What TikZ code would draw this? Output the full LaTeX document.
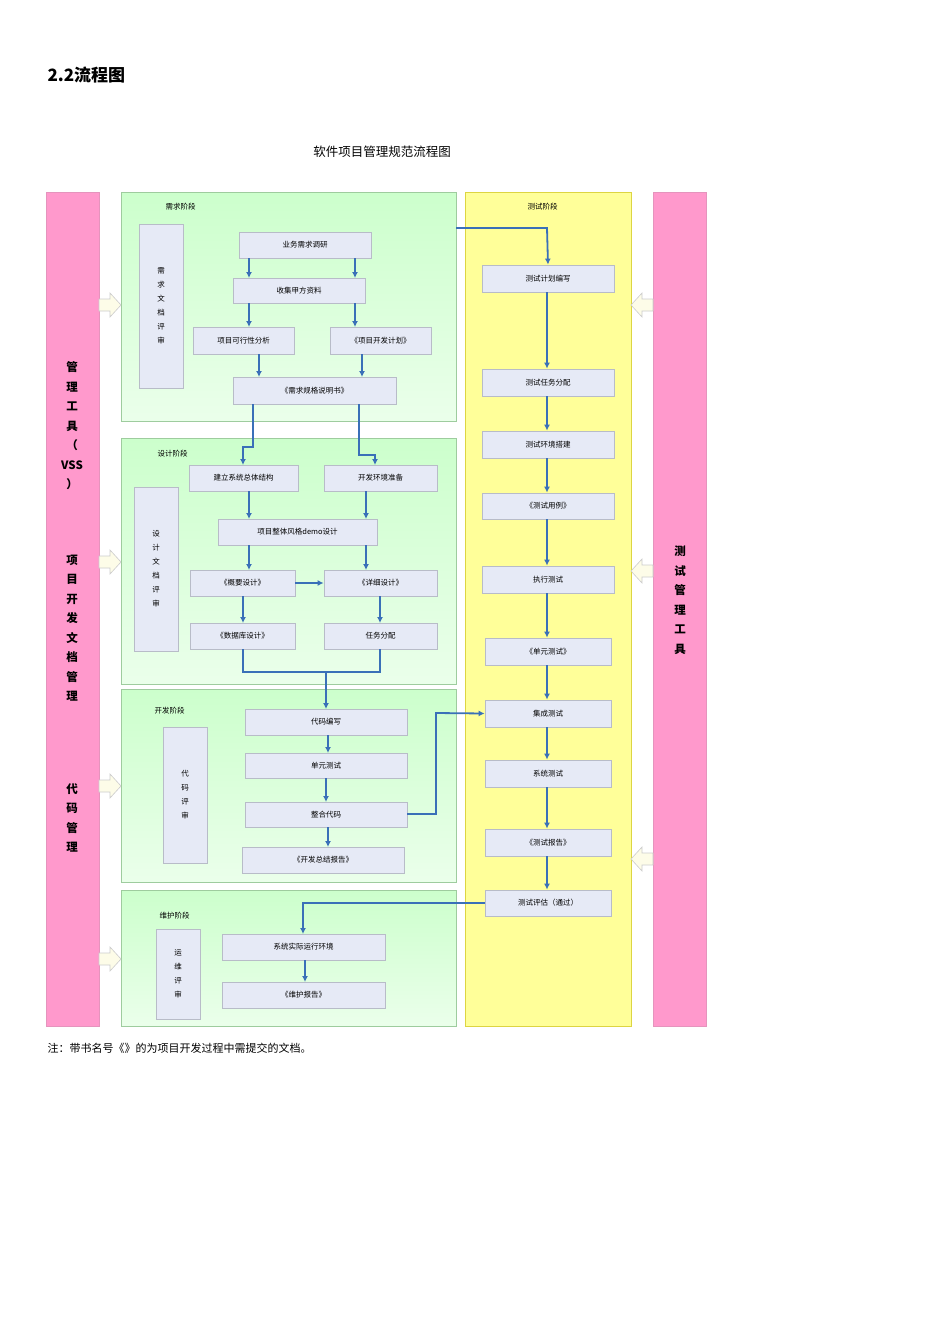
\documentclass[tikz,border=0pt]{standalone}
\usepackage{fontspec}
\setmainfont{Noto Sans CJK SC}
\usetikzlibrary{arrows.meta}
\definecolor{pinkbar}{HTML}{FF99CC}
\definecolor{yel}{HTML}{FFFF99}
\definecolor{boxf}{HTML}{E6EAF6}
\definecolor{boxd}{HTML}{B8BCC8}
\definecolor{arr}{HTML}{3A70B8}
\tikzset{
 sbox/.style={draw=boxd,fill=boxf,line width=0.8pt,font=\fontsize{7.5}{14}\selectfont,inner sep=0pt,align=center},
 panel/.style={draw=white!70!green!60!gray,line width=0.8pt,top color=green!20!white,bottom color=green!8!white},
 flow/.style={draw=arr,line width=1.8pt,-{Latex[length=6pt,width=6pt]}},
 flown/.style={draw=arr,line width=1.8pt},
 blk/.style={fill=gray!15!yellow!10!white,draw=gray!40,line width=0.6pt},
 lab/.style={font=\fontsize{7.5}{9}\selectfont,anchor=west},
}
\newcommand{\bx}[6]{\node[sbox,minimum width=#4-#2,minimum height=#5-#3] (#1) at ({(#2+#4)/2},{(#3+#5)/2}) {#6};}
\begin{document}
\begin{tikzpicture}[x=1pt,y=-1pt]
\useasboundingbox[fill=white] (0,0) rectangle (950,1344);
\node[anchor=west,font=\bfseries\fontsize{17}{20}\selectfont] (h) at (44,75) {2.2流程图};
\node[font=\fontsize{12.5}{15}\selectfont] (t) at (382,152) {软件项目管理规范流程图};
% bars
\node[fill=pinkbar,draw=pinkbar!80!gray,minimum width=53,minimum height=834,inner sep=0] (lb) at (72.5,609) {};
\node[fill=pinkbar,draw=pinkbar!80!gray,minimum width=53,minimum height=834,inner sep=0] (rb) at (679.5,609) {};
\node[fill=yel,draw=yellow!70!gray,minimum width=166,minimum height=834,inner sep=0] (yb) at (548,609) {};
\node[font=\bfseries\fontsize{11.5}{19.5}\selectfont,align=center] (l1) at (72,426) {管\\理\\工\\具\\（\\VSS\\）};
\node[font=\bfseries\fontsize{11.5}{19.5}\selectfont,align=center] (l2) at (72,628) {项\\目\\开\\发\\文\\档\\管\\理};
\node[font=\bfseries\fontsize{11.5}{19.5}\selectfont,align=center] (l3) at (72,818) {代\\码\\管\\理};
\node[font=\bfseries\fontsize{11.5}{19.5}\selectfont,align=center] (r1) at (680,600) {测\\试\\管\\理\\工\\具};
% panels
\shade[panel] (121,192) rectangle (456,421);
\shade[panel] (121,438) rectangle (456,684);
\shade[panel] (121,689) rectangle (456,882);
\shade[panel] (121,890) rectangle (456,1026);
\node[lab] (p1) at (162,207) {需求阶段};
\node[lab] (p2) at (154,454) {设计阶段};
\node[lab] (p3) at (151,711) {开发阶段};
\node[lab] (p4) at (156,916) {维护阶段};
\node[lab] (p5) at (524,207) {测试阶段};
% review boxes
\bx{rv1}{139}{224}{183}{388}{需\\求\\文\\档\\评\\审}
\bx{rv2}{134}{487}{178}{651}{设\\计\\文\\档\\评\\审}
\bx{rv3}{163}{727}{207}{863}{代\\码\\评\\审}
\bx{rv4}{156}{929}{200}{1019}{运\\维\\评\\审}
% requirement
\bx{a1}{239}{232}{371}{258}{业务需求调研}
\bx{a2}{233}{278}{365}{303}{收集甲方资料}
\bx{a3}{193}{327}{294}{354}{项目可行性分析}
\bx{a4}{330}{327}{431}{354}{《项目开发计划》}
\bx{a5}{233}{377}{396}{404}{《需求规格说明书》}
% design
\bx{b1}{189}{465}{298}{491}{建立系统总体结构}
\bx{b2}{324}{465}{437}{491}{开发环境准备}
\bx{b3}{218}{519}{377}{545}{项目整体风格demo设计}
\bx{b4}{190}{570}{295}{596}{《概要设计》}
\bx{b5}{324}{570}{437}{596}{《详细设计》}
\bx{b6}{190}{623}{295}{649}{《数据库设计》}
\bx{b7}{324}{623}{437}{649}{任务分配}
% dev
\bx{c1}{245}{709}{407}{735}{代码编写}
\bx{c2}{245}{753}{407}{778}{单元测试}
\bx{c3}{245}{802}{407}{827}{整合代码}
\bx{c4}{242}{847}{404}{873}{《开发总结报告》}
% maint
\bx{d1}{222}{934}{385}{960}{系统实际运行环境}
\bx{d2}{222}{982}{385}{1008}{《维护报告》}
% test
\bx{e1}{482}{265}{614}{292}{测试计划编写}
\bx{e2}{482}{369}{614}{396}{测试任务分配}
\bx{e3}{482}{431}{614}{458}{测试环境搭建}
\bx{e4}{482}{493}{614}{519}{《测试用例》}
\bx{e5}{482}{566}{614}{593}{执行测试}
\bx{e6}{485}{638}{611}{665}{《单元测试》}
\bx{e7}{485}{700}{611}{727}{集成测试}
\bx{e8}{485}{760}{611}{787}{系统测试}
\bx{e9}{485}{829}{611}{856}{《测试报告》}
\bx{e10}{485}{890}{611}{916}{测试评估（通过）}
% arrows requirement
\draw[flow] (249,258) -- (249,278);
\draw[flow] (355,258) -- (355,278);
\draw[flow] (249,303) -- (249,327);
\draw[flow] (355,303) -- (355,327);
\draw[flow] (259,354) -- (259,377);
\draw[flow] (362,354) -- (362,377);
\draw[flow] (253,404) -- (253,447) -- (243,447) -- (243,465);
\draw[flow] (359,404) -- (359,455) -- (375,455) -- (375,465);
% design
\draw[flow] (249,491) -- (249,519);
\draw[flow] (366,491) -- (366,519);
\draw[flow] (249,545) -- (249,570);
\draw[flow] (366,545) -- (366,570);
\draw[flow] (b4) -- (b5);
\draw[flow] (243,596) -- (243,623);
\draw[flow] (380,596) -- (380,623);
\draw[flown] (243,649) -- (243,672) -- (326,672);
\draw[flown] (380,649) -- (380,672) -- (326,672);
\draw[flow] (326,672) -- (326,709);
% dev
\draw[flow] (328,735) -- (328,753);
\draw[flow] (326,778) -- (326,802);
\draw[flow] (328,827) -- (328,847);
\draw[flow] (407,814) -- (436,814) -- (436,713) -- (e7.west);
% maint
\draw[flow] (e10.west) -- (303,903) -- (303,934);
\draw[flow] (305,960) -- (305,982);
% test
\draw[flow] (456,228) -- (547,228) -- (e1.north);
\foreach \u/\v in {e1/e2,e2/e3,e3/e4,e4/e5,e5/e6,e6/e7,e7/e8,e8/e9,e9/e10}
  \draw[flow] (547,0 |- \u.south) -- (547,0 |- \v.north);
% block arrows
\foreach \c in {305,562,786,959}
  \draw[blk] (99,\c-6) -- (110,\c-6) -- (110,\c-12) -- (121,\c) -- (110,\c+12) -- (110,\c+6) -- (99,\c+6) -- cycle;
\foreach \c in {305,571,859}
  \draw[blk] (653,\c-6) -- (642,\c-6) -- (642,\c-12) -- (631,\c) -- (642,\c+12) -- (642,\c+6) -- (653,\c+6) -- cycle;
\node[anchor=west,font=\fontsize{11}{13}\selectfont] (note) at (44,1048) {注：带书名号《》的为项目开发过程中需提交的文档。};
\end{tikzpicture}
\end{document}
